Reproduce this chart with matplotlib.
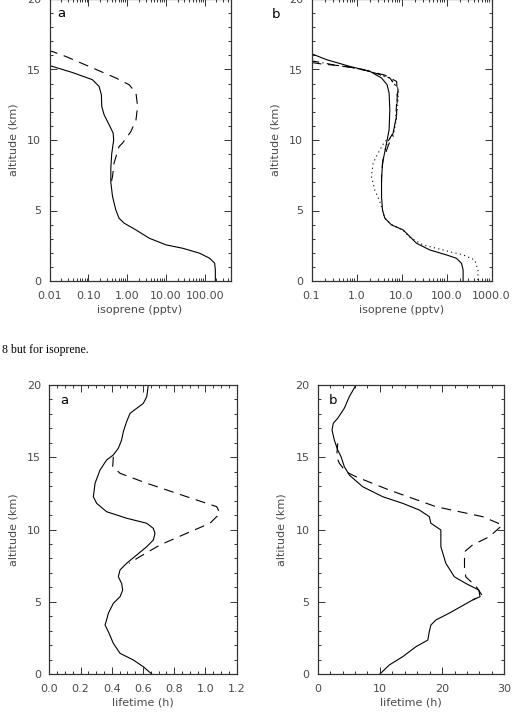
import numpy as np
import matplotlib
matplotlib.use("Agg")
import matplotlib.pyplot as plt
from matplotlib.ticker import MultipleLocator, LogLocator, NullFormatter

# -------------------------------
# data (altitude in km)
# -------------------------------
# top left: isoprene (pptv), run a
iso_a_solid_alt = [15.32, 14.79, 14.28, 13.8, 13.21, 12.38, 11.79, 11.08, 10.49, 10.0,
                   9.0, 8.0, 7.0, 6.0, 5.04, 4.45, 4.10, 3.62, 3.03, 2.56, 2.32,
                   1.97, 1.61, 1.26, 0.78, 0.0]
iso_a_solid = [0.009, 0.0386, 0.127, 0.189, 0.217, 0.222, 0.255, 0.344, 0.436, 0.45,
               0.40, 0.38, 0.38, 0.42, 0.51, 0.62, 0.84, 1.69, 3.74, 10.1, 27.2,
               73.8, 134, 180, 187, 187]
iso_a_dash_alt = [16.3, 16.28, 15.93, 15.22, 14.4, 13.92, 13.33, 12.38, 11.43, 10.6,
                  9.78, 9.54, 8.36, 7.41, 7.0]
iso_a_dash = [0.009, 0.0117, 0.026, 0.104, 0.51, 1.13, 1.69, 1.86, 1.69, 1.25,
              0.76, 0.62, 0.46, 0.42, 0.39]

# top right: isoprene (pptv), run b
iso_b_solid_alt = [16.12, 15.7, 15.22, 14.87, 14.4, 13.92, 13.33, 12.14, 10.72, 9.54,
                   8.36, 7.17, 5.99, 5.04, 4.45, 3.98, 3.62, 3.15, 2.68, 2.2,
                   1.85, 1.61, 1.26, 0.78, 0.0]
iso_b_solid = [0.1, 0.215, 0.71, 1.98, 3.6, 4.79, 5.3, 5.5, 5.3, 4.5,
               3.78, 3.6, 3.6, 3.78, 4.26, 6.0, 10.9, 15.3, 21.5, 42.6,
               100, 166, 215, 234, 234]
iso_b_dash_alt = [15.5, 15.4, 15.22, 14.87, 14.6, 14.15, 13.5, 12.5, 11.5, 10.49,
                  9.54, 8.6, 7.6, 7.0]
iso_b_dash = [0.1, 0.16, 0.6, 1.98, 4.26, 7.8, 8.0, 8.0, 7.6, 6.5,
              5.0, 3.9, 3.6, 3.6]
iso_b_dashdot_alt = [15.6, 15.57, 15.34, 15.0, 14.8, 14.4, 13.6, 12.4, 11.4, 10.5,
                     9.9, 9.3]
iso_b_dashdot = [0.1, 0.12, 0.30, 1.4, 2.3, 5.5, 8.4, 7.7, 7.4, 6.5,
                 5.0, 4.3]
iso_b_dot_alt = [15.0, 14.4, 13.6, 12.4, 11.4, 10.25, 9.9, 9.3, 8.36, 7.41,
                 6.46, 5.63, 5.0, 4.45, 4.0, 3.6, 3.1, 2.56, 2.2, 1.85,
                 1.49, 0.78, 0.0]
iso_b_dot = [1.4, 5.5, 8.6, 8.2, 7.6, 6.5, 4.26, 3.3, 2.34, 2.15,
             2.55, 3.3, 3.78, 4.26, 6.0, 10.9, 15.3, 30, 84, 234,
             426, 500, 500]

# bottom left: lifetime (h), run a
life_a_solid_alt = [20.0, 19.19, 18.73, 18.04, 17.46, 16.77, 16.19, 15.62, 15.16, 14.81,
                    14.12, 13.2, 12.27, 11.81, 11.23, 10.78, 10.43, 10.08, 9.74, 9.27,
                    8.81, 8.24, 7.66, 7.2, 6.73, 6.27, 5.81, 5.35, 4.89, 4.2,
                    3.74, 3.39, 2.93, 2.12, 1.43, 0.97, 0.5, 0.0]
life_a_solid = [0.634, 0.624, 0.602, 0.517, 0.495, 0.474, 0.463, 0.442, 0.41, 0.367,
                0.325, 0.293, 0.282, 0.303, 0.367, 0.495, 0.624, 0.666, 0.677, 0.666,
                0.624, 0.56, 0.495, 0.453, 0.442, 0.463, 0.47, 0.453, 0.41, 0.378,
                0.367, 0.357, 0.378, 0.41, 0.453, 0.538, 0.602, 0.656]
life_a_dash_alt = [15.04, 14.35, 13.89, 13.2, 12.27, 11.58, 11.12, 10.43, 9.74, 8.93,
                   8.12, 7.66]
life_a_dash = [0.41, 0.406, 0.453, 0.624, 0.88, 1.072, 1.093, 1.029, 0.88, 0.709,
               0.58, 0.51]

# bottom right: lifetime (h), run b
life_b_solid_alt = [20.0, 19.19, 18.39, 17.7, 17.35, 16.89, 16.19, 15.5, 15.04, 14.35,
                    13.77, 12.96, 12.27, 11.81, 11.35, 10.89, 10.43, 9.97, 8.81, 7.66,
                    6.73, 6.27, 5.81, 5.35, 5.12, 4.66, 4.2, 3.74, 3.39, 2.93,
                    2.35, 1.89, 1.2, 0.62, 0.0]
life_b_solid = [6.16, 5.08, 4.28, 3.22, 2.51, 2.3, 2.67, 3.22, 3.75, 4.28,
                5.08, 7.23, 10.45, 13.67, 16.33, 17.94, 18.2, 19.8, 19.8, 20.6,
                21.96, 23.8, 25.9, 26.1, 24.9, 23.0, 21.1, 19.0, 18.2, 17.94,
                17.7, 15.8, 13.67, 11.5, 10.0]
life_b_dash_alt = [15.96, 15.04, 14.58, 14.0, 13.65, 12.73, 11.58, 10.89, 10.31, 9.5,
                   8.93, 8.46, 7.43, 6.73, 6.04, 5.47, 5.12]
life_b_dash = [3.22, 3.05, 3.48, 4.55, 6.16, 11.5, 19.0, 26.5, 29.7, 27.6,
               24.9, 23.6, 23.6, 23.8, 25.5, 26.4, 24.9]

iso_a_ticks = [0.01, 0.1, 1, 10, 100]
iso_a_labels = ["0.01", "0.10", "1.00", "10.00", "100.00"]
iso_b_ticks = [0.1, 1, 10, 100, 1000]
iso_b_labels = ["0.1", "1.0", "10.0", "100.0", "1000.0"]

TXT = "#4a4a4a"
plt.rcParams["font.family"] = ["DejaVu Sans"]
plt.rcParams["font.size"] = 8
plt.rcParams["text.color"] = TXT
plt.rcParams["axes.labelcolor"] = TXT
plt.rcParams["xtick.color"] = "#333333"
plt.rcParams["ytick.color"] = "#333333"
plt.rcParams["xtick.labelcolor"] = TXT
plt.rcParams["ytick.labelcolor"] = TXT

W, H = 512, 727
fig = plt.figure(figsize=(W / 100, H / 100), dpi=100)


def make_axes(left, top, right, bottom):
    return fig.add_axes([left / W, 1 - bottom / H, (right - left) / W, (bottom - top) / H])


def style(ax):
    for s in ax.spines.values():
        s.set_color("#333333")
        s.set_linewidth(0.9)
    ax.tick_params(which="both", direction="in", top=True, right=True, width=0.7)
    ax.tick_params(which="major", length=5, labelsize=8)
    ax.tick_params(which="minor", length=2.5)
    ax.tick_params(axis="x", pad=7)
    ax.tick_params(axis="y", pad=6)
    ax.set_ylim(0, 20)
    ax.yaxis.set_major_locator(MultipleLocator(5))
    ax.yaxis.set_minor_locator(MultipleLocator(1))
    ax.set_ylabel("altitude (km)", labelpad=6)


lw = 0.8
dash = dict(color="black", lw=lw, dashes=(9, 6))

# -------------------------------
# top left
# -------------------------------
ax1 = make_axes(49.5, -1, 230.5, 281)
style(ax1)
ax1.plot(iso_a_solid, iso_a_solid_alt, color="black", lw=lw)
ax1.plot(iso_a_dash, iso_a_dash_alt, **dash)
ax1.set_xscale("log")
ax1.set_xlim(0.01, 460)
ax1.set_xticks(iso_a_ticks)
ax1.set_xticklabels(iso_a_labels)
ax1.xaxis.set_minor_locator(LogLocator(base=10, subs=np.arange(2, 10)))
ax1.xaxis.set_minor_formatter(NullFormatter())
ax1.set_xlabel("isoprene (pptv)", labelpad=3)
ax1.text(0.045, 0.935, "a", transform=ax1.transAxes, fontsize=9.5, color="black")

# -------------------------------
# top right
# -------------------------------
ax2 = make_axes(311.5, -1, 491.5, 281)
style(ax2)
ax2.plot(iso_b_solid, iso_b_solid_alt, color="black", lw=lw)
ax2.plot(iso_b_dash, iso_b_dash_alt, **dash)
ax2.plot(iso_b_dashdot, iso_b_dashdot_alt, color="black", lw=lw, dashes=(7, 3, 1, 3))
ax2.plot(iso_b_dot, iso_b_dot_alt, color="black", lw=lw, dashes=(1, 3))
ax2.set_xscale("log")
ax2.set_xlim(0.1, 1000)
ax2.set_xticks(iso_b_ticks)
ax2.set_xticklabels(iso_b_labels)
ax2.xaxis.set_minor_locator(LogLocator(base=10, subs=np.arange(2, 10)))
ax2.xaxis.set_minor_formatter(NullFormatter())
ax2.set_xlabel("isoprene (pptv)", labelpad=3)
fig.text(272 / W, 1 - 18 / H, "b", fontsize=9.5, color="black")

# caption fragment from the page
fig.text(2 / W, 1 - 353 / H, "8 but for isoprene.", family="Liberation Serif",
         fontsize=8.5, color="black")

# -------------------------------
# bottom left
# -------------------------------
ax3 = make_axes(49.3, 385, 236.7, 674)
style(ax3)
ax3.plot(life_a_solid, life_a_solid_alt, color="black", lw=lw)
ax3.plot(life_a_dash, life_a_dash_alt, **dash)
ax3.set_xlim(0, 1.2)
ax3.xaxis.set_major_locator(MultipleLocator(0.2))
ax3.xaxis.set_minor_locator(MultipleLocator(0.05))
ax3.xaxis.set_major_formatter(matplotlib.ticker.FormatStrFormatter("%.1f"))
ax3.set_xlabel("lifetime (h)", labelpad=3)
ax3.text(0.06, 0.935, "a", transform=ax3.transAxes, fontsize=9.5, color="black")

# -------------------------------
# bottom right
# -------------------------------
ax4 = make_axes(317.7, 385, 504.3, 674)
style(ax4)
ax4.plot(life_b_solid, life_b_solid_alt, color="black", lw=lw)
ax4.plot(life_b_dash, life_b_dash_alt, **dash)
ax4.set_xlim(0, 30)
ax4.xaxis.set_major_locator(MultipleLocator(10))
ax4.xaxis.set_minor_locator(MultipleLocator(2))
ax4.set_xlabel("lifetime (h)", labelpad=3)
ax4.text(0.06, 0.935, "b", transform=ax4.transAxes, fontsize=9.5, color="black")

fig.savefig("out.png", dpi=100)
